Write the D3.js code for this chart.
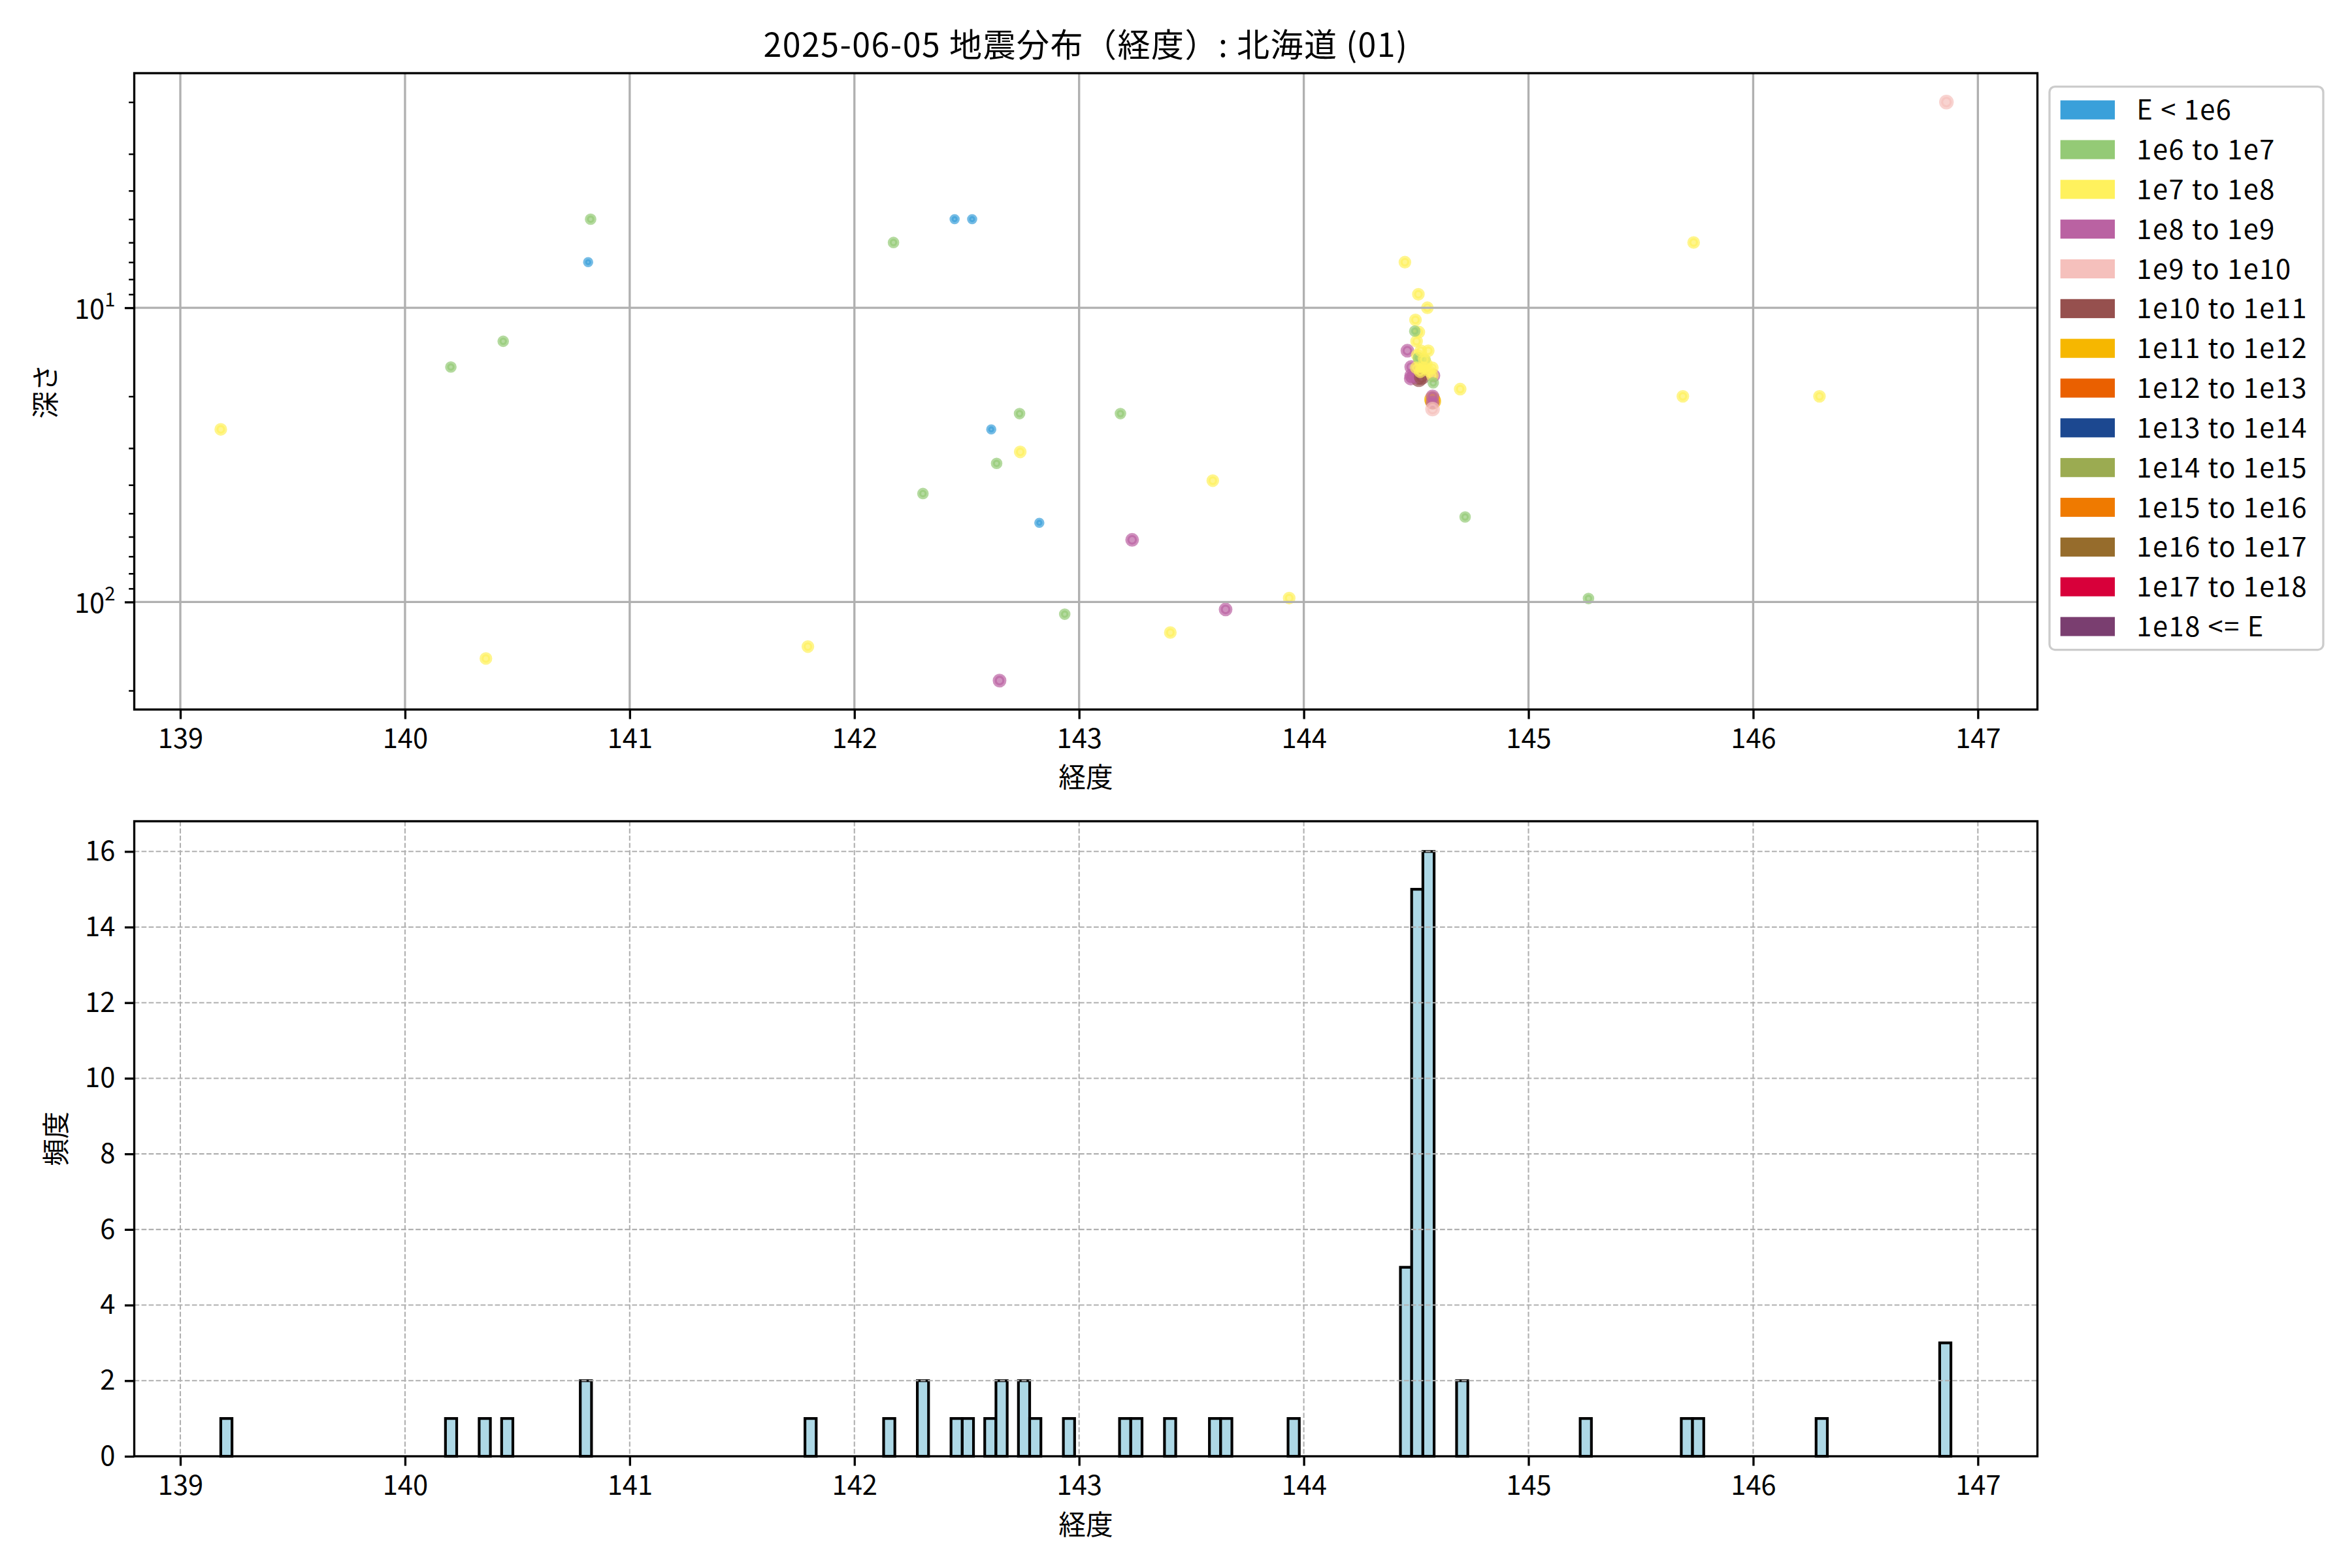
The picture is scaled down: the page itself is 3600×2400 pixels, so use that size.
<!DOCTYPE html>
<html><head><meta charset="utf-8">
<script src="https://cdn.jsdelivr.net/npm/d3@7"></script>
<style>
body{margin:0;background:#fff}
text{font-family:"Noto Sans CJK JP","Noto Sans",sans-serif;fill:#000}
</style>
</head><body><svg id="c" width="3600" height="2400" xmlns="http://www.w3.org/2000/svg"></svg>
<script>
// ---------------- data ----------------
const titleText = "2025-06-05 地震分布（経度）: 北海道 (01)";
const xLabelText = "経度";
const depthLabelText = "深さ";
const freqLabelText = "頻度";

const classLabels = ["E < 1e6","1e6 to 1e7","1e7 to 1e8","1e8 to 1e9","1e9 to 1e10","1e10 to 1e11",
  "1e11 to 1e12","1e12 to 1e13","1e13 to 1e14","1e14 to 1e15","1e15 to 1e16","1e16 to 1e17",
  "1e17 to 1e18","1e18 <= E"];
const classColors = ["#3AA0DA","#94CA76","#FFF15D","#BA62A2","#F5C0BC","#96504E","#F6B700",
  "#EA6000","#1C4890","#9BAB51","#EF7A00","#966C2C","#D8003A","#7A3E70"];

// events: longitude, depth (km, 0 = surface -> not drawable on log axis), energy class index
const lon = [
  139.180,140.204,140.360,140.437,140.815,140.826,141.793,142.174,142.305,142.305,
  142.446,142.524,142.609,142.633,142.646,142.735,142.738,142.823,142.936,143.184,
  143.236,143.406,143.595,143.652,143.935,144.696,144.718,145.267,145.687,145.735,
  146.295,146.860,146.860,146.860,
  // cluster
  144.572,144.476,144.512,144.495,144.478,144.525,144.478,144.461,144.577,144.575,
  144.573,144.573,144.573,
  144.505,144.515,144.520,144.518,144.545,144.558,
  144.510,144.539,
  144.450,144.510,144.550,144.497,144.512,144.502,144.521,144.554,144.536,144.501,144.534,144.572,144.572,
  144.494,144.576
];
const depth = [
  25.9,15.9,155.6,13.0,7.0,5.0,141.8,6.0,42.8,0,
  5.0,5.0,25.9,33.8,185,22.9,30.9,53.8,110,22.9,
  61.5,127,38.7,106,97,18.9,51.4,97.3,20.0,6.0,
  20.0,2.0,0,0,
  20.5,17.4,17.5,17.2,17.0,17.2,15.9,14.0,17.0,20.8,
  20.0,21.0,22.1,
  14.5,15.0,15.8,16.5,15.5,16.4,
  14.8,15.0,
  7.0,9.0,10.0,11.0,12.1,13.0,14.0,14.0,15.0,16.0,16.0,16.0,17.0,
  12.0,18.0
];
const cls = [
  2,1,2,1,0,1,2,1,1,1,
  0,0,0,1,3,1,2,0,1,1,
  3,2,2,3,2,2,1,1,2,2,
  2,4,4,4,
  6,3,5,3,3,5,3,3,3,6,
  3,3,4,
  2,2,2,2,2,2,
  1,1,
  2,2,2,2,2,2,2,2,2,2,2,2,2,
  1,1
];

const binStart = 139.18, binWidth = 0.05, binCount = 154;
const xTicks = [139,140,141,142,143,144,145,146,147];
const depthMajorTicks = [10,100];
const freqTicks = [0,2,4,6,8,10,12,14,16];

// ---------------- layout / style ----------------
const PT = 300/72;
const svg = d3.select("#c");
svg.append("rect").attr("width",3600).attr("height",2400).attr("fill","#fff");

const axL = 205.5, axR = 3118.5;
const top1 = 112, bot1 = 1086, top2 = 1257, bot2 = 2229;
const FS = 10*PT;

const binHi = binStart + binCount*binWidth;
const xPad = 0.05*(binHi - binStart);
const x = d3.scaleLinear().domain([binStart - xPad, binHi + xPad]).range([axL, axR]);

const rows = lon.map((v,i)=>({lon:v, depth:depth[i], k:cls[i]}));
const vis = rows.filter(r => r.depth > 0);
const [d0, d1] = d3.extent(vis, r=>r.depth);
const l0 = Math.log10(d0), l1 = Math.log10(d1), lp = 0.05*(l1-l0);
const y = d3.scaleLog().domain([10**(l0-lp), 10**(l1+lp)]).range([top1, bot1]);

// ---------------- title ----------------
svg.append("text").attr("x",(axL+axR)/2).attr("y",87).attr("text-anchor","middle")
  .attr("font-size",12*PT).attr("letter-spacing","1.5px").text(titleText);

// ---------------- scatter ----------------
const gS = svg.append("g");
gS.selectAll("circle").data(vis).join("circle")
  .attr("cx", d=>x(d.lon)).attr("cy", d=>y(d.depth))
  .attr("r", d=>Math.sqrt(5+2.5*d.k)*PT/2)
  .attr("fill", d=>classColors[d.k]).attr("fill-opacity",0.7)
  .attr("stroke", d=>classColors[d.k]).attr("stroke-opacity",0.7)
  .attr("stroke-width",1.5*PT);

// grid (drawn above collections like matplotlib's default)
const gG1 = svg.append("g").attr("stroke","#b0b0b0").attr("stroke-width",0.8*PT);
gG1.selectAll("line.v").data(xTicks).join("line").attr("class","v")
  .attr("x1",d=>x(d)).attr("x2",d=>x(d)).attr("y1",top1).attr("y2",bot1);
gG1.selectAll("line.h").data(depthMajorTicks).join("line").attr("class","h")
  .attr("x1",axL).attr("x2",axR).attr("y1",d=>y(d)).attr("y2",d=>y(d));

// spines
svg.append("rect").attr("x",axL).attr("y",top1).attr("width",axR-axL).attr("height",bot1-top1)
  .attr("fill","none").attr("stroke","#000").attr("stroke-width",0.8*PT);

function styleAxis(g){
  g.select(".domain").remove();
  g.attr("font-family",null).attr("font-size",null);
  g.selectAll(".tick line").attr("stroke","#000").attr("stroke-width",0.8*PT);
  g.selectAll(".tick text").attr("font-size",FS).attr("fill","#000");
}

// x axis (top plot)
const xa1 = svg.append("g").attr("transform",`translate(0,${bot1})`)
  .call(d3.axisBottom(x).tickValues(xTicks).tickFormat(d3.format("d"))
    .tickSizeInner(3.5*PT).tickSizeOuter(0).tickPadding(3.5*PT));
styleAxis(xa1);

// y axis (log, depth) major
const ya1 = svg.append("g").attr("transform",`translate(${axL},0)`)
  .call(d3.axisLeft(y).tickValues(depthMajorTicks).tickFormat(()=>"")
    .tickSizeInner(3.5*PT).tickSizeOuter(0));
styleAxis(ya1);
ya1.selectAll(".tick text").remove();
// minor ticks
const [yd0, yd1] = y.domain();
const depthMinor = y.ticks().filter(v => !depthMajorTicks.includes(v) && v>=yd0 && v<=yd1);
const ym1 = svg.append("g").attr("transform",`translate(${axL},0)`)
  .call(d3.axisLeft(y).tickValues(depthMinor).tickFormat(()=>"").tickSizeInner(2*PT).tickSizeOuter(0));
ym1.select(".domain").remove();
ym1.selectAll(".tick line").attr("stroke","#000").attr("stroke-width",0.6*PT);
ym1.selectAll(".tick text").remove();
// major labels 10^n
const yl = svg.append("g");
depthMajorTicks.forEach(v=>{
  const t = yl.append("text").attr("x",axL-7*PT).attr("y",y(v)+17).attr("text-anchor","end")
    .attr("font-size",FS);
  t.append("tspan").text("10");
  t.append("tspan").attr("dy",-19).attr("font-size",FS*0.7).text(String(Math.round(Math.log10(v))));
});

svg.append("text").attr("x",(axL+axR)/2).attr("y",1205).attr("text-anchor","middle")
  .attr("font-size",FS).text(xLabelText);
svg.append("text").attr("transform",`translate(85,${(top1+bot1)/2}) rotate(-90)`)
  .attr("text-anchor","middle").attr("font-size",FS).text(depthLabelText);

// ---------------- legend ----------------
const lgX = 3137, lgY = 132.6, lgW = 419, rowStep = 60.83, row0 = 168.2;
const lgH = row0 - lgY + rowStep*(classLabels.length-1) + (row0 - lgY);
const gL = svg.append("g");
gL.append("rect").attr("x",lgX).attr("y",lgY).attr("width",lgW).attr("height",lgH)
  .attr("rx",0.2*FS).attr("fill","#fff").attr("fill-opacity",0.8)
  .attr("stroke","#cccccc").attr("stroke-width",0.8*PT);
classLabels.forEach((lab,i)=>{
  const cy = row0 + i*rowStep;
  gL.append("rect").attr("x",lgX+0.4*FS).attr("y",cy-0.35*FS).attr("width",2*FS).attr("height",0.7*FS)
    .attr("fill",classColors[i]);
  gL.append("text").attr("x",lgX+0.4*FS+2.8*FS).attr("y",cy+15).attr("font-size",FS)
    .attr("letter-spacing","1.5px").text(lab);
});

// ---------------- histogram ----------------
const bins = d3.bin().domain([binStart, binHi])
  .thresholds(d3.range(1, binCount).map(i=>binStart+i*binWidth))(lon);
const maxC = d3.max(bins, b=>b.length);
const yH = d3.scaleLinear().domain([0, maxC*1.05]).range([bot2, top2]);

svg.append("g").selectAll("rect").data(bins).join("rect")
  .attr("x", b=>x(b.x0)).attr("width", b=>x(b.x1)-x(b.x0))
  .attr("y", b=>yH(b.length)).attr("height", b=>yH(0)-yH(b.length))
  .attr("fill","#add8e6").attr("stroke","#000").attr("stroke-width",1.0*PT);

const gG2 = svg.append("g").attr("stroke","#b0b0b0").attr("stroke-width",0.5*PT)
  .attr("stroke-dasharray",`${3.7*0.5*PT},${1.6*0.5*PT}`);
gG2.selectAll("line.v").data(xTicks).join("line").attr("class","v")
  .attr("x1",d=>x(d)).attr("x2",d=>x(d)).attr("y1",top2).attr("y2",bot2);
gG2.selectAll("line.h").data(freqTicks).join("line").attr("class","h")
  .attr("x1",axL).attr("x2",axR).attr("y1",d=>yH(d)).attr("y2",d=>yH(d));

svg.append("rect").attr("x",axL).attr("y",top2).attr("width",axR-axL).attr("height",bot2-top2)
  .attr("fill","none").attr("stroke","#000").attr("stroke-width",0.8*PT);

const xa2 = svg.append("g").attr("transform",`translate(0,${bot2})`)
  .call(d3.axisBottom(x).tickValues(xTicks).tickFormat(d3.format("d"))
    .tickSizeInner(3.5*PT).tickSizeOuter(0).tickPadding(3.5*PT));
styleAxis(xa2);
const ya2 = svg.append("g").attr("transform",`translate(${axL},0)`)
  .call(d3.axisLeft(yH).tickValues(freqTicks).tickFormat(d3.format("d"))
    .tickSizeInner(3.5*PT).tickSizeOuter(0).tickPadding(3.5*PT));
styleAxis(ya2);

svg.append("text").attr("x",(axL+axR)/2).attr("y",2349).attr("text-anchor","middle")
  .attr("font-size",FS).text(xLabelText);
svg.append("text").attr("transform",`translate(101,${(top2+bot2)/2}) rotate(-90)`)
  .attr("text-anchor","middle").attr("font-size",FS).text(freqLabelText);
</script>
</body></html>
